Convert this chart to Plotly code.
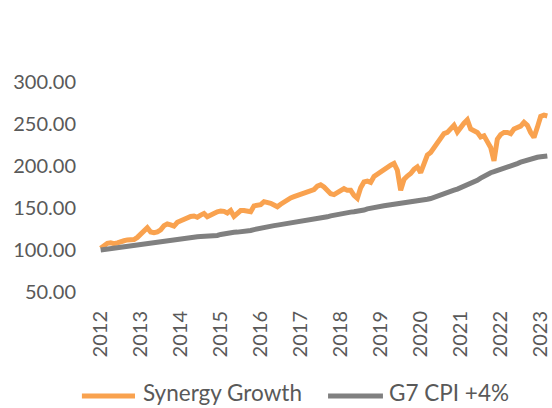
import plotly.graph_objects as go

years = [str(y) for y in range(2012, 2024)]

synergy_growth = [
    102, 105, 108, 108.5, 107.5, 108.5, 110.5, 111, 112, 112.5, 112.5, 115,
    118.5, 122, 126.5, 121.5, 120.5, 121.5, 124, 129, 131, 130, 128.5, 133,
    135, 137.5, 139, 140, 140.5, 139, 141.5, 143.5, 139.5, 142, 144, 145.5,
    146.5, 146, 144, 147, 140, 143, 147, 147, 146.5, 145.5, 152.5, 153.5,
    154, 157.5, 157, 155.5, 153.5, 151.5, 154.5, 157.5, 160.5, 162, 163.5, 165,
    166, 167, 168, 169.5, 172, 176, 177.5, 175, 170, 167, 166, 168.5,
    171.5, 173, 171, 171, 165, 161.5, 174, 181, 182, 180.5, 187.5, 190.5,
    192.5, 195, 198, 201, 203, 195, 171, 184, 188, 191, 196, 199,
    192, 205, 213, 216, 222, 229, 234, 238.5, 240, 245, 248.5, 240.5,
    247, 251, 255, 244, 242, 240, 234.5, 236, 229, 222, 206, 232,
    237.5, 240, 240, 238.5, 244, 245, 247.5, 252, 248.5, 240, 234, 246,
    259, 260.5, 259.5,
]

g7_cpi_plus4 = [
    100, 100.6, 101.2, 101.8, 102.3, 102.8, 103.3, 103.8, 104.3, 104.8, 105.3, 105.8,
    106.3, 106.9, 107.5, 108.1, 108.7, 109.3, 109.9, 110.6, 111.3, 112, 112.7, 113.5,
    114.2, 114.7, 115.1, 115.4, 115.6, 115.8, 116, 116.1, 116.2, 116.3, 116.4, 117.3,
    118.5, 119.5, 120.2, 120.6, 121, 121.3, 121.6, 121.9, 122.2, 123.2, 124.3, 125.3,
    126.3, 127.2, 127.8, 128.4, 129, 129.6, 130.2, 130.8, 131.4, 132, 132.6, 133.2,
    133.7, 134.2, 134.7, 135.2, 135.8, 136.5, 137.5, 138.5, 139.5, 140.6, 141.6, 142.5,
    143.3, 144, 144.6, 145.1, 145.5, 145.9, 146.4, 147.6, 149, 150, 150.7, 151.4,
    152.1, 152.7, 153.3, 153.8, 154.3, 154.8, 155.2, 155.7, 156.4, 157.1, 157.7, 158.3,
    158.9, 159.6, 160.4, 161.3, 162.5, 164, 165.5, 167.2, 168.6, 169.9, 171.2, 172.5,
    174, 175.5, 177, 178.6, 180.7, 183, 185.5, 188.2, 190.6, 192, 193.2, 194.4,
    195.6, 196.9, 198.4, 199.8, 201.3, 202.9, 204.5, 205.9, 207.2, 208.5, 209.6, 210.4,
    211, 211.5, 212,
]

series_names = ["Synergy Growth", "G7 CPI +4%"]
series_colors = ["#F9A24F", "#808080"]

months = list(range(len(synergy_growth)))
year_ticks = [12 * i for i in range(len(years))]

FONT = "Lato"
TXT = "#595959"

fig = go.Figure()
for name, vals, col in zip(series_names, [synergy_growth, g7_cpi_plus4], series_colors):
    fig.add_trace(go.Scatter(
        x=months, y=vals, mode="lines", name=name,
        line=dict(color=col, width=5), showlegend=False,
    ))

# legend drawn below the plot (paper coordinates)
legend_swatches = [(-0.038, 0.080), (0.509, 0.631)]
legend_text_x = [0.094, 0.641]
swatch_y = -0.495
text_y = -0.551
for (x0, x1), tx, name, col in zip(legend_swatches, legend_text_x, series_names, series_colors):
    fig.add_shape(type="line", xref="paper", yref="paper", x0=x0, x1=x1,
                  y0=swatch_y, y1=swatch_y, line=dict(color=col, width=5))
    fig.add_annotation(xref="paper", yref="paper", x=tx, y=text_y, text=name,
                       showarrow=False, xanchor="left", yanchor="bottom",
                       font=dict(family=FONT, size=22.5, color=TXT))

fig.update_layout(
    width=552, height=408,
    margin=dict(l=99, r=3, t=82, b=116),
    paper_bgcolor="white", plot_bgcolor="white",
    font=dict(family=FONT, size=20, color=TXT),
    showlegend=False,
    xaxis=dict(
        range=[-0.5, 134.5], tickvals=year_ticks, ticktext=years,
        tickangle=-90, showgrid=False, zeroline=False, showline=False,
        ticks="", ticklabelstandoff=14, automargin=False,
    ),
    yaxis=dict(
        range=[50, 300], tickvals=[50, 100, 150, 200, 250, 300],
        tickformat=".2f", showgrid=False, zeroline=False, showline=False,
        ticks="", ticklabelstandoff=22, automargin=False,
    ),
)

fig.write_html(
    "out.html",
    config={"displayModeBar": False},
    post_script="document.body.style.margin='0';document.body.style.overflow='hidden';",
)
